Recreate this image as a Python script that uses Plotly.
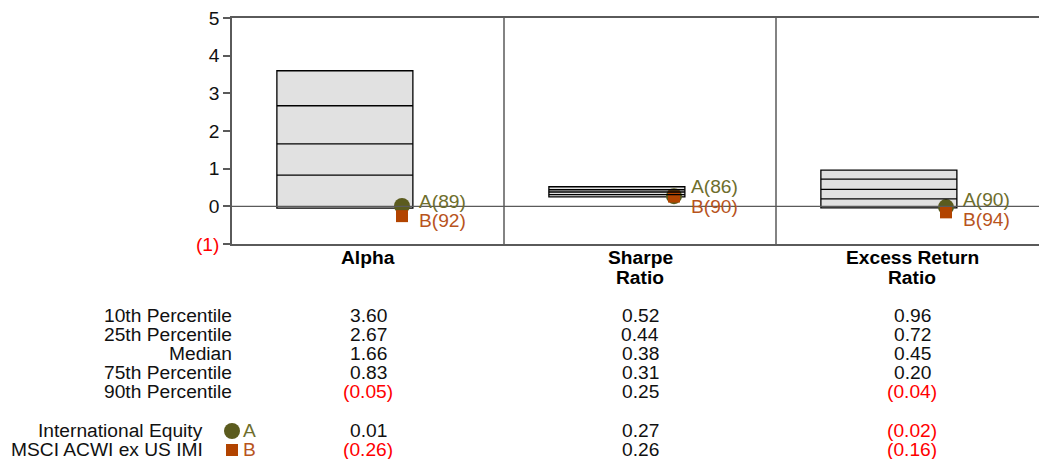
import plotly.graph_objects as go

# Percentile ranges per statistic
metrics = ["Alpha", "Sharpe\nRatio", "Excess Return\nRatio"]
p10 = [3.60, 0.52, 0.96]
p25 = [2.67, 0.44, 0.72]
p50 = [1.66, 0.38, 0.45]
p75 = [0.83, 0.31, 0.20]
p90 = [-0.05, 0.25, -0.04]

# Portfolio and benchmark values with their percentile ranks
fund_name = "International Equity"
bench_name = "MSCI ACWI ex US IMI"
fund_vals = [0.01, 0.27, -0.02]
fund_ranks = [89, 86, 90]
bench_vals = [-0.26, 0.26, -0.16]
bench_ranks = [92, 90, 94]

row_labels = ["10th Percentile", "25th Percentile", "Median", "75th Percentile", "90th Percentile"]

y_ticks = [-1, 0, 1, 2, 3, 4, 5]

# Layout geometry (pixels)
W, H = 1039, 459
L, T, B = 232, 18, 244
PANEL_PX = 272
X_MAX = (W - L) / PANEL_PX
Y_MIN, Y_MAX = -1, 5
PX_PER_UNIT = (B - T) / (Y_MAX - Y_MIN)

FONT = "Liberation Sans, Arial, Helvetica, sans-serif"
FS = 19.2
RED = "#ff0000"
OLIVE_MK = "#5b5b1e"
OLIVE_TX = "#6e6e2c"
RUST_MK = "#b24400"
RUST_TX = "#b8541c"
GRID = "#5a5a5a"

BOX_L, BOX_R, MK_X, LBL_X = 0.165, 0.665, 0.625, 0.68


def fmt(v):
    s = f"{abs(v):.2f}"
    return f"({s})" if v < 0 else s


def tick_text(v):
    return f"<span style='color:{RED}'>({abs(v)})</span>" if v < 0 else str(v)


def paper_y(px):
    return (B - px) / (B - T)


fig = go.Figure()
shapes = []
annotations = []

# Percentile boxes
for i in range(len(metrics)):
    shapes.append(dict(type="rect", xref="x", yref="y", x0=i + BOX_L, x1=i + BOX_R,
                       y0=p90[i], y1=p10[i], fillcolor="#e1e1e1",
                       line=dict(color="#000000", width=1.3), layer="below"))
    for v in (p25[i], p50[i], p75[i]):
        shapes.append(dict(type="line", xref="x", yref="y", x0=i + BOX_L, x1=i + BOX_R,
                           y0=v, y1=v, line=dict(color="#000000", width=1.3)))

# Zero line and panel dividers
shapes.append(dict(type="line", xref="paper", yref="y", x0=0, x1=1, y0=0, y1=0,
                   line=dict(color=GRID, width=1.3)))
for i in range(1, len(metrics)):
    shapes.append(dict(type="line", xref="x", yref="y", x0=i, x1=i, y0=Y_MIN, y1=Y_MAX,
                       line=dict(color=GRID, width=1.5)))

# Portfolio and benchmark markers
fig.add_trace(go.Scatter(x=[i + MK_X for i in range(len(metrics))], y=fund_vals,
                         mode="markers", marker=dict(symbol="circle", size=16, color=OLIVE_MK),
                         cliponaxis=False, showlegend=False, hoverinfo="skip"))
fig.add_trace(go.Scatter(x=[i + MK_X for i in range(len(metrics))], y=bench_vals,
                         mode="markers", marker=dict(symbol="square", size=12, color=RUST_MK),
                         cliponaxis=False, showlegend=False, hoverinfo="skip"))

# Rank labels beside markers, spread apart so they do not overlap
MIN_GAP = 19.5
for i in range(len(metrics)):
    ya = fund_vals[i] * PX_PER_UNIT
    yb = bench_vals[i] * PX_PER_UNIT
    sa, sb = 0.0, 0.0
    if ya - yb < MIN_GAP:
        mid = (ya + yb) / 2
        sa = mid + MIN_GAP / 2 - ya
        sb = mid - MIN_GAP / 2 - yb
    annotations.append(dict(x=i + LBL_X, y=fund_vals[i], xref="x", yref="y", yshift=sa,
                            text=f"A({fund_ranks[i]})", showarrow=False, xanchor="left",
                            yanchor="middle", font=dict(family=FONT, size=FS, color=OLIVE_TX)))
    annotations.append(dict(x=i + LBL_X, y=bench_vals[i], xref="x", yref="y", yshift=sb,
                            text=f"B({bench_ranks[i]})", showarrow=False, xanchor="left",
                            yanchor="middle", font=dict(family=FONT, size=FS, color=RUST_TX)))

# Category titles under each panel
for i, name in enumerate(metrics):
    for j, line in enumerate(name.split("\n")):
        annotations.append(dict(x=i + 0.5, y=paper_y(257.5 + 19.5 * j), xref="x", yref="paper",
                                text=f"<b>{line}</b>", showarrow=False, xanchor="center",
                                yanchor="middle", font=dict(family=FONT, size=FS, color="#000000")))

# Percentile table
ROW0, ROW_STEP = 315, 19.2
table = [p10, p25, p50, p75, p90]
for r, (label, vals) in enumerate(zip(row_labels, table)):
    py = paper_y(ROW0 + ROW_STEP * r)
    annotations.append(dict(x=0, y=py, xref="x", yref="paper", text=label, showarrow=False,
                            xanchor="right", yanchor="middle", xshift=2,
                            font=dict(family=FONT, size=FS, color="#111111")))
    for i, v in enumerate(vals):
        annotations.append(dict(x=i + 0.5, y=py, xref="x", yref="paper", text=fmt(v),
                                showarrow=False, xanchor="center", yanchor="middle",
                                font=dict(family=FONT, size=FS, color=RED if v < 0 else "#111111")))

# Portfolio / benchmark rows with key glyphs
LEG_ROWS = [(fund_name, fund_vals, "A", OLIVE_MK, OLIVE_TX, "circle", 8, 431),
            (bench_name, bench_vals, "B", RUST_MK, RUST_TX, "rect", 6, 450)]
for name, vals, key, mk, tx, shp, half, row_px in LEG_ROWS:
    py = paper_y(row_px)
    annotations.append(dict(x=0, y=py, xref="x", yref="paper", text=name, showarrow=False,
                            xanchor="right", yanchor="middle", xshift=-27,
                            font=dict(family=FONT, size=FS, color="#111111")))
    shapes.append(dict(type=shp, xref="paper", yref="paper", xsizemode="pixel", ysizemode="pixel",
                       xanchor=0, yanchor=py, x0=-half, x1=half, y0=-half, y1=half,
                       fillcolor=mk, line=dict(width=0)))
    annotations.append(dict(x=0, y=py, xref="x", yref="paper", text=key, showarrow=False,
                            xanchor="left", yanchor="middle", xshift=9,
                            font=dict(family=FONT, size=FS, color=tx)))
    for i, v in enumerate(vals):
        annotations.append(dict(x=i + 0.5, y=py, xref="x", yref="paper", text=fmt(v),
                                showarrow=False, xanchor="center", yanchor="middle",
                                font=dict(family=FONT, size=FS, color=RED if v < 0 else "#111111")))

fig.update_layout(
    width=W, height=H,
    margin=dict(l=L, r=0, t=T, b=H - B, pad=0),
    paper_bgcolor="white", plot_bgcolor="white",
    shapes=shapes, annotations=annotations,
    font=dict(family=FONT, size=FS, color="#111111"),
    xaxis=dict(range=[0, X_MAX], showgrid=False, zeroline=False, showticklabels=False,
               ticks="", showline=True, linecolor=GRID, linewidth=1.5, mirror=True, fixedrange=True),
    yaxis=dict(range=[Y_MIN, Y_MAX], tickvals=y_ticks, ticktext=[tick_text(v) for v in y_ticks],
               showgrid=False, zeroline=False, showline=True, linecolor=GRID, linewidth=1.5,
               ticks="outside", ticklen=7, tickcolor=GRID, tickwidth=1.5, ticklabelstandoff=0,
               tickfont=dict(family=FONT, size=FS, color="#111111"), fixedrange=True),
)

fig.write_html("out.html", config={"displayModeBar": False})
